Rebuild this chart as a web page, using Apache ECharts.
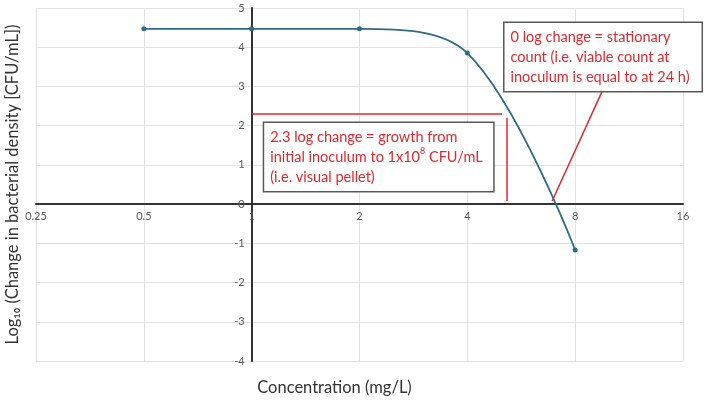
<!DOCTYPE html>
<html><head><meta charset="utf-8">
<script src="https://cdn.jsdelivr.net/npm/echarts@6/dist/echarts.min.js"></script>
<style>html,body{margin:0;padding:0;background:#fff}#c{width:709px;height:400px}</style>
</head><body><div id="c"></div>
<script>
var concentrations = [0.5, 1, 2, 4, 8];
var logChange = [4.47, 4.47, 4.47, 3.85, -1.17];
var xTicks = [0.25, 0.5, 1, 2, 4, 8, 16];
var yTicks = [-4, -3, -2, -1, 0, 1, 2, 3, 4, 5];
var xCross = 1;
var yCross = 0;
var growthLevel = 2.3;
var growthLineEnd = 5.0;
var growthDrop = 5.14;
var zeroCross = 6.9;
var note2Anchor = [9.5, 2.86];
var note1Pos = [2.27, 1.2];
var note2Pos = [9.6, 3.75];

var RED = '#e0282e';
var font = 'Lato';
var GRID = { left: 36, right: 26, top: 8, bottom: 39 };
var chart = echarts.init(document.getElementById('c'));
var data = concentrations.map(function (c, i) { return [c, logChange[i]]; });
var boxLabel = {
  show: true, position: 'inside', align: 'left',
  backgroundColor: '#fff', borderColor: '#595959', borderWidth: 1.5,
  fontFamily: font, fontSize: 14.5, color: RED, lineHeight: 20,
  padding: [4, 6, 4, 6],
  rich: {
    r: { fontFamily: font, fontSize: 14.5, color: RED, lineHeight: 20 },
    sup: { fontFamily: font, fontSize: 9, color: RED, lineHeight: 20, verticalAlign: 'top', padding: [0, 0, 6, 0] }
  }
};
chart.setOption({
  animation: false,
  grid: { left: GRID.left, right: GRID.right, top: GRID.top, bottom: GRID.bottom, outerBoundsMode: 'none', containLabel: false },
  xAxis: [{
    type: 'log', logBase: 2, min: xTicks[0], max: xTicks[xTicks.length - 1],
    position: 'bottom', offset: 0,
    axisLine: { onZero: false, lineStyle: { color: '#333', width: 2 } },
    axisTick: { show: false },
    axisLabel: { color: '#595959', fontFamily: font, fontSize: 11, margin: 7, formatter: function (v) { return String(+v.toPrecision(6)); } },
    splitLine: { show: true, lineStyle: { color: '#e3e3e3', width: 1 } }
  }, {
    type: 'value', min: Math.log2(xTicks[0]), max: Math.log2(xTicks[xTicks.length - 1]),
    position: 'bottom',
    axisLine: { show: false, onZero: false }, axisTick: { show: false }, axisLabel: { show: false }, splitLine: { show: false },
    name: 'Concentration (mg/L)', nameLocation: 'middle', nameGap: 18,
    nameTextStyle: { fontFamily: font, fontSize: 16.5, color: '#333', padding: [0, 50, 0, 0] }
  }],
  yAxis: [{
    type: 'value', min: yTicks[0], max: yTicks[yTicks.length - 1], interval: 1,
    position: 'left', offset: 0,
    axisLine: { show: true, onZero: false, lineStyle: { color: '#333', width: 2 } },
    axisTick: { show: false },
    axisLabel: { color: '#595959', fontFamily: font, fontSize: 11, margin: 7 },
    splitLine: { show: true, lineStyle: { color: '#e3e3e3', width: 1 } }
  }, {
    type: 'value', min: yTicks[0], max: yTicks[yTicks.length - 1], position: 'left',
    axisLine: { show: false, onZero: false }, axisTick: { show: false }, axisLabel: { show: false }, splitLine: { show: false },
    name: 'Log₁₀ (Change in bacterial density [CFU/mL])', nameLocation: 'middle', nameGap: 15,
    nameTextStyle: { fontFamily: font, fontSize: 16.5, color: '#333', padding: [6, 0, 0, 0] }
  }],
  series: [{
    type: 'line', data: data, smooth: 0.35, xAxisIndex: 0, yAxisIndex: 0,
    symbol: 'circle', symbolSize: 5,
    lineStyle: { color: '#2e6b86', width: 1.8 }, itemStyle: { color: '#2e6b86' },
    z: 3
  }, {
    type: 'line', data: [], xAxisIndex: 0, yAxisIndex: 0, z: 4,
    markLine: {
      silent: true, symbol: 'none', label: { show: false },
      lineStyle: { color: RED, width: 1.5, type: 'solid' },
      data: [
        [{ coord: [xCross, growthLevel] }, { coord: [growthLineEnd, growthLevel] }],
        [{ coord: [growthDrop, growthLevel - 0.1] }, { coord: [growthDrop, 0.08] }],
        [{ coord: note2Anchor }, { coord: [zeroCross, 0.08] }]
      ]
    },
    markPoint: {
      silent: true, symbol: 'rect', symbolSize: 1, itemStyle: { color: 'rgba(0,0,0,0)' },
      data: [
        { coord: note1Pos, label: Object.assign({}, boxLabel, {
          formatter: '{r|2.3 log change = growth from}\n{r|initial inoculum to 1x10}{sup|8}{r| CFU/mL}\n{r|(i.e. visual pellet)}', width: 217, offset: [-115, 0] }) },
        { coord: note2Pos, label: Object.assign({}, boxLabel, {
          formatter: '{r|0 log change = stationary}\n{r|count (i.e. viable count at}\n{r|inoculum is equal to at 24 h)}', width: 185, offset: [-99, 0] }) }
      ]
    }
  }]
});
// Move the axes so they cross at (xCross, yCross), positions taken from the library's scales
var px = chart.convertToPixel({ xAxisIndex: 0 }, xCross);
var py = chart.convertToPixel({ yAxisIndex: 0 }, yCross);
var gridBottomY = chart.getHeight() - GRID.bottom;
chart.setOption({
  xAxis: [{ offset: py - gridBottomY }, {}],
  yAxis: [{ offset: GRID.left - px }, {}]
});
</script></body></html>
